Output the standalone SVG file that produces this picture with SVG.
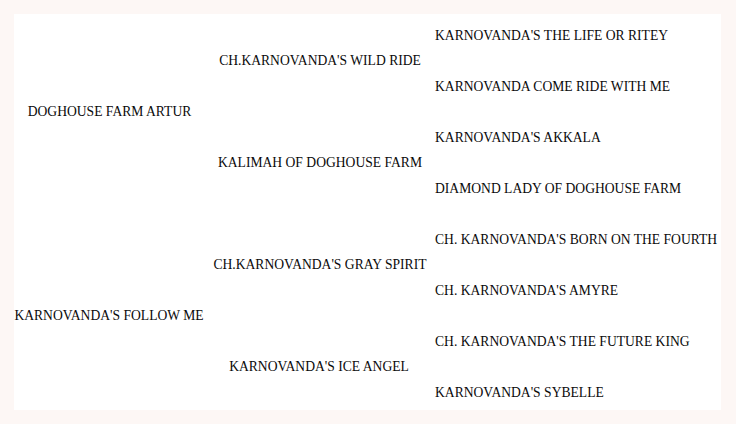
<svg xmlns="http://www.w3.org/2000/svg" width="736" height="424" viewBox="0 0 736 424">
<style>
text{font-family:"Liberation Serif","Times New Roman",serif;font-size:13.6px;fill:#0a0a0a}
.c{text-anchor:middle}
</style>
<rect x="0" y="0" width="736" height="424" fill="#fdf7f5"/>
<rect x="14" y="14" width="707" height="396" fill="#ffffff"/>
<g id="gen1">
<g id="n-follow-me"><text class="c" x="109" y="320">KARNOVANDA'S FOLLOW ME</text></g>
<g id="n-artur"><text class="c" x="109.5" y="116">DOGHOUSE FARM ARTUR</text></g>
</g>
<g id="gen2">
<g id="n-wild-ride"><text class="c" x="320" y="65">CH.KARNOVANDA'S WILD RIDE</text></g>
<g id="n-kalimah"><text class="c" x="320" y="167">KALIMAH OF DOGHOUSE FARM</text></g>
<g id="n-gray-spirit"><text class="c" x="320" y="269">CH.KARNOVANDA'S GRAY SPIRIT</text></g>
<g id="n-ice-angel"><text class="c" x="319" y="371">KARNOVANDA'S ICE ANGEL</text></g>
</g>
<g id="gen3">
<g id="n-life-or-ritey"><text x="435" y="40">KARNOVANDA'S THE LIFE OR RITEY</text></g>
<g id="n-come-ride"><text x="435" y="91">KARNOVANDA COME RIDE WITH ME</text></g>
<g id="n-akkala"><text x="435" y="142">KARNOVANDA'S AKKALA</text></g>
<g id="n-diamond-lady"><text x="435" y="193">DIAMOND LADY OF DOGHOUSE FARM</text></g>
<g id="n-born-fourth"><text x="435" y="244">CH. KARNOVANDA'S BORN ON THE FOURTH</text></g>
<g id="n-amyre"><text x="435" y="295">CH. KARNOVANDA'S AMYRE</text></g>
<g id="n-future-king"><text x="435" y="346">CH. KARNOVANDA'S THE FUTURE KING</text></g>
<g id="n-sybelle"><text x="435" y="397">KARNOVANDA'S SYBELLE</text></g>
</g>
<g id="connectors"></g>
</svg>
